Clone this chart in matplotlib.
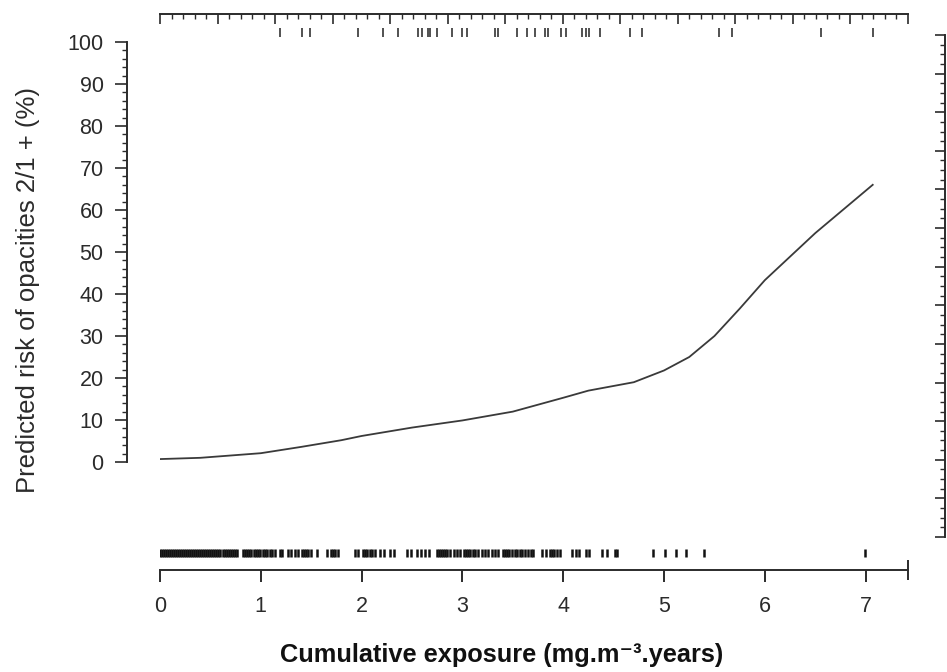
import matplotlib
matplotlib.use("Agg")
import matplotlib.pyplot as plt
import numpy as np
from matplotlib.ticker import MultipleLocator, FixedLocator

plt.rcParams['font.family'] = ['Liberation Sans', 'DejaVu Sans']

# fitted curve (cumulative exposure vs predicted risk, %)
curve_x = [0.0, 0.4, 1.0, 1.4, 1.8, 2.0, 2.5, 3.0, 3.5, 4.0, 4.25, 4.7,
           5.0, 5.25, 5.5, 5.75, 6.0, 6.5, 7.07]
curve_y = [0.7, 1.0, 2.1, 3.6, 5.2, 6.2, 8.2, 9.9, 12.0, 15.3, 17.0, 19.0,
           21.8, 25.0, 30.0, 36.5, 43.3, 54.5, 66.0]

# rug of cases (top) and all subjects (bottom)
cases_x = [1.19, 1.41, 1.49, 1.96, 2.21, 2.36, 2.56, 2.60, 2.66, 2.68, 2.75,
           2.90, 3.00, 3.05, 3.32, 3.35, 3.54, 3.64, 3.72, 3.82, 3.85, 3.98,
           4.03, 4.19, 4.23, 4.26, 4.36, 4.66, 4.78, 5.55, 5.67, 6.56, 7.07]
subjects_x = [0.00, 0.02, 0.04, 0.06, 0.08, 0.10, 0.12, 0.14, 0.16, 0.18,
              0.20, 0.22, 0.24, 0.26, 0.28, 0.30, 0.32, 0.34, 0.36, 0.38,
              0.40, 0.42, 0.44, 0.46, 0.48, 0.50, 0.52, 0.54, 0.56, 0.58,
              0.60, 0.62, 0.64, 0.66, 0.68, 0.70, 0.72, 0.74, 0.76,
              0.82, 0.84, 0.86, 0.88, 0.90, 0.93, 0.95, 0.97, 0.99, 1.02,
              1.04, 1.06, 1.09, 1.11, 1.14, 1.19, 1.21, 1.27, 1.30, 1.34,
              1.37, 1.41, 1.43, 1.45, 1.47, 1.50, 1.56, 1.66, 1.70, 1.72,
              1.74, 1.77, 1.93, 1.96, 2.01, 2.03, 2.05, 2.08, 2.10, 2.13,
              2.18, 2.22, 2.28, 2.32, 2.45, 2.49, 2.55, 2.59, 2.63, 2.67,
              2.75, 2.77, 2.79, 2.81, 2.83, 2.85, 2.88, 2.92, 2.95, 2.98,
              3.02, 3.04, 3.06, 3.08, 3.10, 3.12, 3.15, 3.19, 3.22, 3.25,
              3.29, 3.32, 3.35, 3.40, 3.42, 3.44, 3.46, 3.49, 3.52, 3.54,
              3.57, 3.59, 3.62, 3.65, 3.68, 3.70, 3.79, 3.83, 3.87, 3.89,
              3.91, 3.94, 3.97, 4.09, 4.13, 4.16, 4.23, 4.26, 4.38, 4.43,
              4.51, 4.53, 4.89, 5.01, 5.12, 5.22, 5.40, 6.99]

x_ticks = [0, 1, 2, 3, 4, 5, 6, 7]
y_ticks = [0, 10, 20, 30, 40, 50, 60, 70, 80, 90, 100]

W, H = 947, 672
INK = '#2b2b2b'

fig = plt.figure(figsize=(W / 100, H / 100), dpi=100)
ax = fig.add_axes([160 / W, (H - 570) / H, (908 - 160) / W, (570 - 14) / H])
ax.set_xlim(0, 7.42)
ax.set_ylim(-25.71, 106.67)

ax.plot(curve_x, curve_y, color='#3a3a3a', lw=1.3)
ax.vlines(subjects_x, -22.7, -20.6, color='#111111', lw=1.8)
ax.vlines(cases_x, 101.2, 103.3, color='#222222', lw=1.1)

# left axis, detached
ax.spines['left'].set_position(('outward', 24))
ax.spines['left'].set_bounds(0, 100)
ax.spines['right'].set_visible(False)
ax.spines['top'].set_visible(False)
for s in ['left', 'bottom']:
    ax.spines[s].set_color(INK)
    ax.spines[s].set_linewidth(1.4)

ax.set_yticks(y_ticks)
ax.yaxis.set_minor_locator(FixedLocator(np.arange(0, 101, 2)))
ax.tick_params(axis='y', which='major', direction='out', length=8.6, width=1.2,
               pad=8, labelsize=15.5, colors=INK)
ax.tick_params(axis='y', which='minor', direction='out', length=3.6, width=1.0,
               colors=INK)

ax.set_xticks(x_ticks)
ax.set_xticks([7.42], minor=True)
ax.tick_params(axis='x', which='major', direction='out', length=8.6, width=1.4,
               pad=10, labelsize=15.5, colors=INK)
ax.tick_params(axis='x', which='minor', direction='inout', length=14, width=1.4,
               colors=INK)

# top decorative scale
sec = ax.secondary_xaxis('top', functions=(lambda x: x * 13 / 7.42,
                                           lambda u: u * 7.42 / 13))
sec.xaxis.set_major_locator(MultipleLocator(1))
sec.xaxis.set_minor_locator(MultipleLocator(0.2))
sec.tick_params(which='major', direction='in', length=7, width=1.2,
                labeltop=False, colors=INK)
sec.tick_params(which='minor', direction='in', length=3.6, width=1.0, colors=INK)
sec.spines['top'].set_color(INK)
sec.spines['top'].set_linewidth(1.4)

# right decorative scale
axr = fig.add_axes([900 / W, (H - 537) / H, 45 / W, (537 - 35) / H])
axr.patch.set_visible(False)
for s in ['left', 'top', 'bottom']:
    axr.spines[s].set_visible(False)
axr.spines['right'].set_color(INK)
axr.spines['right'].set_linewidth(1.4)
axr.set_ylim(0, 13)
axr.set_xticks([])
axr.yaxis.set_ticks_position('right')
axr.yaxis.set_major_locator(MultipleLocator(1))
axr.yaxis.set_minor_locator(MultipleLocator(0.25))
axr.tick_params(axis='y', which='major', direction='in', length=7, width=1.2,
                labelright=False, colors=INK)
axr.tick_params(axis='y', which='minor', direction='in', length=3.6, width=1.0,
                colors=INK)

fig.text(28 / W, (H - 290) / H, 'Predicted risk of opacities 2/1 + (%)',
         rotation=90, ha='center', va='center', fontsize=18.5, color=INK)
fig.text(502 / W, (H - 655) / H, 'Cumulative exposure (mg.m\u207b\u00b3.years)',
         ha='center', va='center', fontsize=18.3, fontweight='bold', color='#111111')

fig.savefig('out.png', dpi=100)
